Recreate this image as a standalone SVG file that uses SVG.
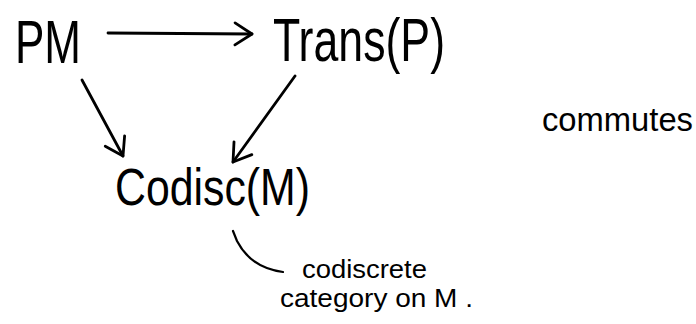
<svg xmlns="http://www.w3.org/2000/svg" width="696" height="324" viewBox="0 0 696 324">
  <style>
    .t { font-family: "Liberation Sans", Arial, sans-serif; fill: #000; }
    .big { font-size: 62px; }
    .mid { font-size: 52px; }
    .note { font-size: 33px; }
    .small { font-size: 26px; }
    .edge { fill: none; stroke: #000; stroke-width: 2.8; stroke-linecap: round; stroke-linejoin: round; }
  </style>
  <defs>
    <marker id="arr" viewBox="-20 -14 22 28" markerWidth="22" markerHeight="28" refX="0" refY="0" markerUnits="userSpaceOnUse" orient="auto">
      <path d="M-17,-11 L0,0 L-17,11" fill="none" stroke="#000" stroke-width="2.8" stroke-linecap="round" stroke-linejoin="round"/>
    </marker>
  </defs>
  <rect width="696" height="324" fill="#fff"/>
  <g id="connectors">
    <path class="edge" d="M108,33 L252,34" marker-end="url(#arr)"/>
    <path class="edge" d="M82,80 L123,156" marker-end="url(#arr)"/>
    <path class="edge" d="M295,76 L233,162" marker-end="url(#arr)"/>
    <path class="edge" style="stroke-width:2.2" d="M233,231 L237,241 Q251,268 283,272"/>
  </g>
  <g id="PM">
    <text class="t big" x="15" y="63" textLength="66" lengthAdjust="spacingAndGlyphs">PM</text>
  </g>
  <g id="Trans">
    <text class="t big" x="273" y="61" textLength="172" lengthAdjust="spacingAndGlyphs">Trans(P)</text>
  </g>
  <g id="Codisc">
    <text class="t mid" x="115" y="205" textLength="195" lengthAdjust="spacingAndGlyphs">Codisc(M)</text>
  </g>
  <g id="commutes">
    <text class="t note" x="542" y="131" textLength="151" lengthAdjust="spacingAndGlyphs">commutes</text>
  </g>
  <g id="note">
    <text class="t small" x="302" y="278" textLength="125" lengthAdjust="spacingAndGlyphs">codiscrete</text>
    <text class="t small" x="280" y="307" textLength="193" lengthAdjust="spacingAndGlyphs">category on M .</text>
  </g>
</svg>
